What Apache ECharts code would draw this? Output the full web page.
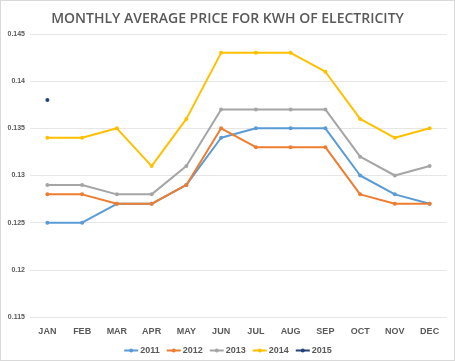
<!DOCTYPE html>
<html><head><meta charset="utf-8">
<script src="https://cdn.jsdelivr.net/npm/echarts@6/dist/echarts.min.js"></script>
<style>html,body{margin:0;padding:0;background:#fff}#c{width:455px;height:361px;box-sizing:border-box;border:1px solid #d9d9d9}</style>
</head><body><div id="c"></div>
<script>
const months = ['JAN','FEB','MAR','APR','MAY','JUN','JUL','AUG','SEP','OCT','NOV','DEC'];
const s2011 = [0.125,0.125,0.127,0.127,0.129,0.134,0.135,0.135,0.135,0.130,0.128,0.127];
const s2012 = [0.128,0.128,0.127,0.127,0.129,0.135,0.133,0.133,0.133,0.128,0.127,0.127];
const s2013 = [0.129,0.129,0.128,0.128,0.131,0.137,0.137,0.137,0.137,0.132,0.130,0.131];
const s2014 = [0.134,0.134,0.135,0.131,0.136,0.143,0.143,0.143,0.141,0.136,0.134,0.135];
const s2015 = [0.138,null,null,null,null,null,null,null,null,null,null,null];
const years = ['2011','2012','2013','2014','2015'];
const colors = ['#5B9BD5','#ED7D31','#A5A5A5','#FFC000','#264478'];
const all = [s2011,s2012,s2013,s2014,s2015];
const chart = echarts.init(document.getElementById('c'));
chart.setOption({
  animation:false,
  title:{text:'MONTHLY AVERAGE PRICE FOR KWH OF ELECTRICITY',left:'center',top:6,
    textStyle:{fontFamily:'Open Sans',fontSize:14,fontWeight:600,color:'#595959'}},
  grid:{left:29,right:7,top:33,bottom:43},
  legend:{top:340,itemWidth:14,itemHeight:5,itemGap:6,
    textStyle:{fontFamily:'Liberation Sans',fontSize:9,fontWeight:'bold',color:'#595959',padding:[0,0,0,-3]}},
  xAxis:{type:'category',data:months,boundaryGap:true,
    axisLine:{show:false},axisTick:{show:false},
    axisLabel:{fontFamily:'Liberation Sans',fontSize:9,fontWeight:'bold',color:'#595959',margin:10}},
  yAxis:{type:'value',min:0.115,max:0.145,interval:0.005,
    axisLabel:{fontFamily:'Liberation Sans',fontSize:7,fontWeight:'bold',color:'#595959',margin:5,
      formatter:v=>String(parseFloat(v.toFixed(3)))},
    splitLine:{lineStyle:{color:'#e6e6e6'}}},
  series: years.map((y,i)=>({name:y,type:'line',data:all[i],color:colors[i],
    symbol:'circle',symbolSize:4,lineStyle:{width:2}}))
});
</script></body></html>
